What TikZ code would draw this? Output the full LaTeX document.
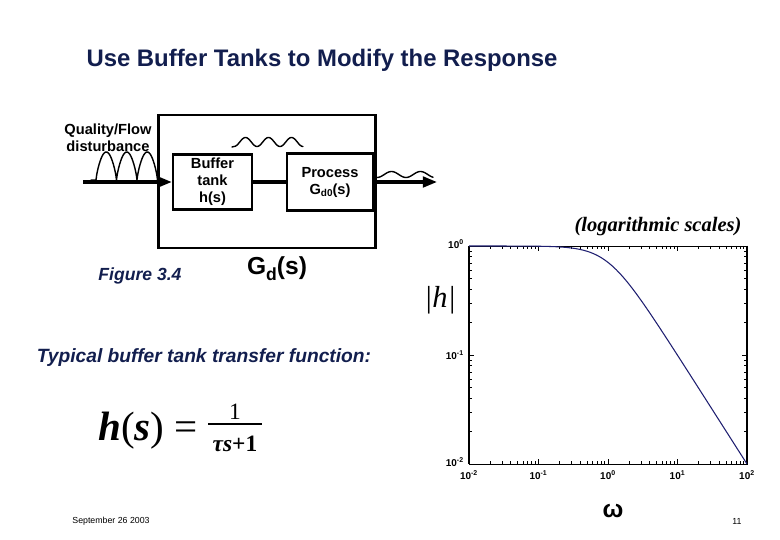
\documentclass[tikz,border=0pt]{standalone}
\usepackage{fontspec}
\setmainfont{Liberation Sans}
\newfontfamily\timesfont{Liberation Serif}
\usetikzlibrary{positioning, arrows.meta}

\definecolor{titleblue}{RGB}{18,30,78}
\definecolor{curveblue}{RGB}{30,30,112}
\def\px{0.03cm}

\begin{document}
\begin{tikzpicture}[x=0.03cm, y=-0.03cm,
  blockbox/.style={draw, line width=2.1pt, align=center, inner sep=0pt,
    font=\bfseries\fontsize{12.5}{14.5}\selectfont},
  signal/.style={line width=2.6pt},
  wave/.style={line width=1.2pt, line cap=round, line join=round},
  ticklab/.style={inner sep=0pt, font=\bfseries\fontsize{8.5}{10}\selectfont},
  tipfill/.style={-{Triangle[length=12pt, width=9pt]}}]

\useasboundingbox (0,0) rectangle (780,540);

% ---------- TITLE ----------

\node[anchor=base, text=titleblue, font=\bfseries\fontsize{20.4}{24}\selectfont]
  (title) at (322,67) {Use Buffer Tanks to Modify the Response};

% ---------- BLOCK DIAGRAM ----------

\node[draw, line width=2.1pt, minimum width=217*\px, minimum height=133*\px]
  (gdbox) at (267,181.5) {};
\node[blockbox, minimum width=79*\px, minimum height=55*\px]
  (buffer) at (212.5,182) {Buffer\\tank\\h(s)};
\node[blockbox, minimum width=86*\px, minimum height=57*\px]
  (process) at (330,182) {Process\\G\raisebox{-0.35ex}{\fontsize{8.5}{9}\selectfont d0}(s)};

\coordinate (in) at (83,182);
\coordinate (out) at (437,182);

\draw[signal, tipfill] (in) -- (buffer);
\draw[signal] (buffer) -- (process);
\draw[signal, tipfill] (process) -- (out);

\node[align=center, inner sep=0pt, font=\bfseries\fontsize{12.5}{14.5}\selectfont]
  (dist) at (108,138) {Quality/Flow\\disturbance};

% disturbance waves
\draw[wave] (91,180) -- (96,180)
  -- plot[domain=0:3, samples=91] ({96+20.5*\x},{180-28*abs(sin(180*\x))^0.75});
\draw[wave] (232,147) -- (234,146.5)
  -- plot[domain=0:69, samples=90, smooth] ({234+\x},{142+4.5*cos(\x/23*360)});
\draw[wave] plot[domain=0:56, samples=60, smooth] ({377+\x},{174.5+3*cos(\x/29*360)});

\node[anchor=base, font=\bfseries\fontsize{21}{24}\selectfont]
  (gdlabel) at (277,275) {G\raisebox{-0.45ex}{\fontsize{15}{15}\selectfont d}(s)};

\node[anchor=base, text=titleblue, font=\bfseries\itshape\fontsize{15}{18}\selectfont]
  (figlabel) at (140,281) {Figure 3.4};

% ---------- TRANSFER FUNCTION ----------

\node[anchor=base, text=titleblue, font=\bfseries\itshape\fontsize{16.4}{19}\selectfont]
  (typical) at (204,362) {Typical buffer tank transfer function:};

\node[anchor=base west, inner sep=0pt, font=\timesfont\fontsize{35}{40}\selectfont]
  (hs) at (98,440) {\textbf{\textit{h}}(\textbf{\textit{s}}) =};
\node[anchor=base, inner sep=0pt, font=\timesfont\fontsize{20}{22}\selectfont]
  (num) at (235,419) {1};
\node[anchor=base, inner sep=0pt, font=\timesfont\bfseries\fontsize{20}{22}\selectfont]
  (den) at (235,451) {\textit{τs}+1};
\coordinate (fracl) at (208,424);
\coordinate (fracr) at (262,424);
\draw[line width=1.5pt] (fracl) -- (fracr);

% ---------- BODE MAGNITUDE PLOT ----------

\node[anchor=base, font=\timesfont\bfseries\itshape\fontsize{17.5}{20}\selectfont]
  (logscale) at (658,232) {(logarithmic scales)};
\node[font=\timesfont\itshape\fontsize{26}{28}\selectfont] (mag) at (440,300) {|h|};

\coordinate (pnw) at (469,246);
\coordinate (pse) at (747,464);
\draw[line width=0.7pt] (pnw) rectangle (pse);
\draw[line width=1.3pt] (pnw) -- (pnw |- pse);
\draw[line width=2.2pt] (pse |- pnw) -- (pse);

% ticks along x
\foreach \d in {0,...,4} {
  \draw[line width=0.7pt] ({469+69.5*\d},464) -- ++(0,-5);
  \draw[line width=0.7pt] ({469+69.5*\d},246) -- ++(0,5);
}
\foreach \d in {0,...,3} {
  \foreach \k in {2,...,9} {
    \pgfmathsetmacro\xx{469+69.5*(\d+log10(\k))}
    \draw[line width=0.6pt] (\xx,464) -- ++(0,-3);
    \draw[line width=0.6pt] (\xx,246) -- ++(0,3);
  }
}
% ticks along y
\foreach \d in {0,...,2} {
  \draw[line width=0.7pt] (469,{246+109*\d}) -- ++(5,0);
  \draw[line width=0.7pt] (747,{246+109*\d}) -- ++(-5,0);
}
\foreach \d in {0,1} {
  \foreach \k in {2,...,9} {
    \pgfmathsetmacro\yy{246+109*(\d+1-log10(\k))}
    \draw[line width=0.6pt] (469,\yy) -- ++(3,0);
    \draw[line width=0.6pt] (747,\yy) -- ++(-3,0);
  }
}

\foreach \e [count=\i from 0] in {-2,-1,0,1,2}
  \node[ticklab] (xl\i) at ({469+69.5*\i},475) {10\textsuperscript{\e}};
\node[ticklab, anchor=east] (yl0) at (464,244) {10\textsuperscript{0}};
\node[ticklab, anchor=east] (yl1) at (464,355) {10\textsuperscript{-1}};
\node[ticklab, anchor=east] (yl2) at (464,462) {10\textsuperscript{-2}};

\draw[curveblue, line width=0.9pt] plot[domain=-2:2, samples=120, smooth]
  ({469+69.5*(\x+2)},{246+54.5*log10(1+10^(2*\x))});

\node[font=\bfseries\fontsize{21}{24}\selectfont] (omega) at (613,511) {ω};

% ---------- FOOTER ----------

\node[font=\fontsize{7.5}{9}\selectfont] (date) at (111,521) {September 26 2003};
\node[font=\fontsize{7.5}{9}\selectfont] (page) at (737,521) {11};

\end{tikzpicture}
\end{document}
